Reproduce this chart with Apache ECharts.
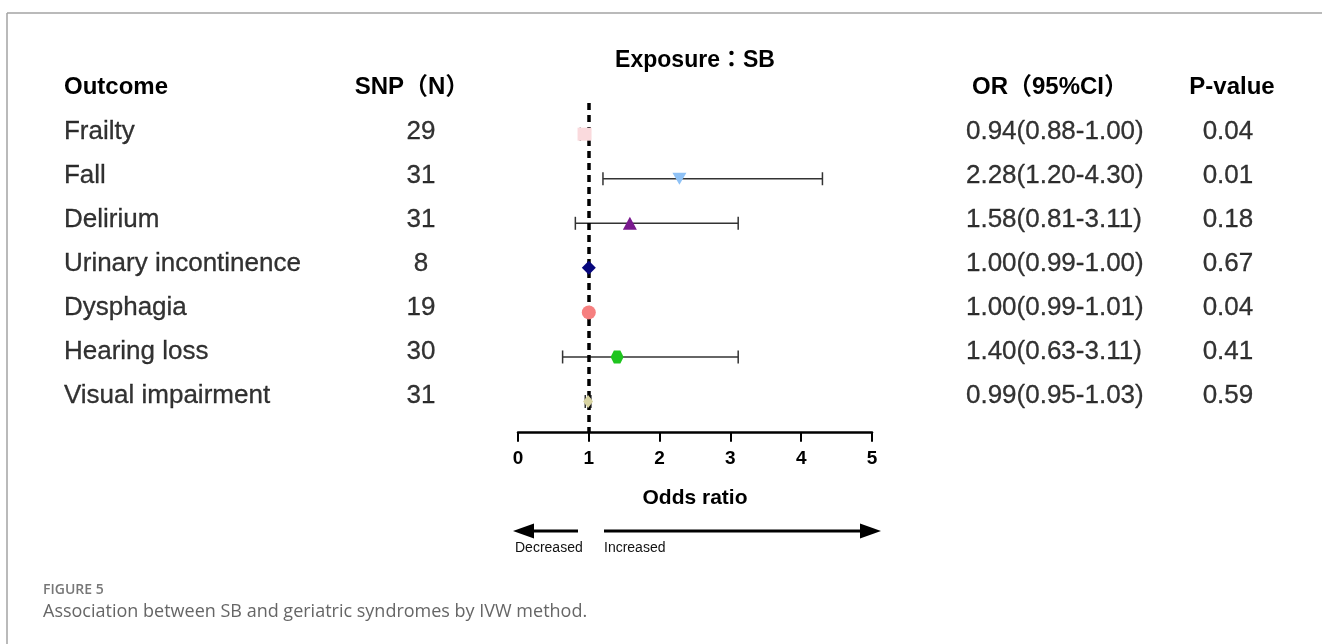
<!DOCTYPE html>
<html>
<head>
<meta charset="utf-8">
<script src="https://cdn.jsdelivr.net/npm/echarts@6/dist/echarts.min.js"></script>
<style>
html,body{margin:0;padding:0;background:#fff;}
#chart{width:1322px;height:644px;}
</style>
</head>
<body>
<div id="chart"></div>
<script>
// ---- data ----
const outcomes = ['Frailty','Fall','Delirium','Urinary incontinence','Dysphagia','Hearing loss','Visual impairment'];
const snpN = [29, 31, 31, 8, 19, 30, 31];
const orValues = [0.94, 2.28, 1.58, 1.00, 1.00, 1.40, 0.99];
const ciLow = [0.88, 1.20, 0.81, 0.99, 0.99, 0.63, 0.95];
const ciHigh = [1.00, 4.30, 3.11, 1.00, 1.01, 3.11, 1.03];
const pValues = ['0.04', '0.01', '0.18', '0.67', '0.04', '0.41', '0.59'];
const xTicks = [0, 1, 2, 3, 4, 5];
const refLine = 1;

// ---- styles ----
const FONT = '"Liberation Sans", Arial, "Noto Sans CJK TC", sans-serif';
const hexPath = 'path://M-1,0 L-0.5,-0.866 L0.5,-0.866 L1,0 L0.5,0.866 L-0.5,0.866 Z';
const markerStyles = [
  {symbol:'rect', size:[14,13], color:'#fadadd', rotate:0},
  {symbol:'triangle', size:[14,12], color:'#8fc2f6', rotate:180},
  {symbol:'triangle', size:[14,13], color:'#7a1a8e', rotate:0},
  {symbol:'diamond', size:[14,14], color:'#07077d', rotate:0},
  {symbol:'circle', size:14, color:'#f67f7f', rotate:0},
  {symbol:hexPath, size:[13,13], color:'#1ec51e', rotate:0},
  {symbol:'diamond', size:[10,13], color:'#d8d4a2', rotate:0}
];
const colX = {outcome:64, snp:421, or:966, p:1228};

const rows = outcomes.map((_, i) => i + 1);

const chart = echarts.init(document.getElementById('chart'), null, {renderer:'canvas'});

function textSeries(xPos, texts, align) {
  return {
    type:'scatter', xAxisIndex:1, yAxisIndex:1, silent:true,
    symbolSize:0.1, itemStyle:{color:'rgba(0,0,0,0)'},
    data: texts.map((t, i) => ({value:[xPos, rows[i]], name:String(t)})),
    label:{show:true, position:[0,0], align:align, verticalAlign:'middle',
      formatter: p => p.name, fontFamily:FONT, fontSize:26, color:'#000',
      textBorderColor:'#000', textBorderWidth:0.3},
    z:5
  };
}

const orText = orValues.map((v, i) => v.toFixed(2) + '(' + ciLow[i].toFixed(2) + '-' + ciHigh[i].toFixed(2) + ')');

const option = {
  animation:false,
  backgroundColor:'#fff',
  grid:[
    {left:518, right:450, top:103, bottom:211.3},
    {left:0, right:0, top:88, bottom:204}
  ],
  xAxis:[
    {type:'value', gridIndex:0, min:xTicks[0], max:xTicks[xTicks.length-1], interval:1,
      splitLine:{show:false},
      axisLine:{show:true, lineStyle:{color:'#000', width:2.5}},
      axisTick:{show:true, length:9, lineStyle:{color:'#000', width:2}},
      axisLabel:{fontFamily:FONT, fontSize:19, fontWeight:'bold', color:'#000', margin:17},
      name:'Odds ratio', nameLocation:'middle', nameGap:55,
      nameTextStyle:{fontFamily:FONT, fontSize:21, fontWeight:'bold', color:'#000'}
    },
    {type:'value', gridIndex:1, min:0, max:1322, show:false}
  ],
  yAxis:[
    {type:'value', gridIndex:0, min:0.3, max:7.7, inverse:true, show:false},
    {type:'value', gridIndex:1, min:0, max:8, inverse:true, show:false}
  ],
  graphic:[
    {type:'line', shape:{x1:7, y1:13, x2:1322, y2:13}, style:{stroke:'#a3a3a3', lineWidth:1.5}, silent:true},
    {type:'line', shape:{x1:7, y1:13, x2:7, y2:644}, style:{stroke:'#a3a3a3', lineWidth:1.5}, silent:true},
    {type:'text', x:695, y:61, style:{text:'Exposure：SB', font:'bold 23px ' + FONT, fill:'#000', align:'center', verticalAlign:'middle'}},
    {type:'text', x:64, y:87, style:{text:'Outcome', font:'bold 24px ' + FONT, fill:'#000', align:'left', verticalAlign:'middle'}},
    {type:'text', x:412, y:87, style:{text:'SNP（N）', font:'bold 24px ' + FONT, fill:'#000', align:'center', verticalAlign:'middle'}},
    {type:'text', x:1050, y:87, style:{text:'OR（95%CI）', font:'bold 24px ' + FONT, fill:'#000', align:'center', verticalAlign:'middle'}},
    {type:'text', x:1232, y:87, style:{text:'P-value', font:'bold 24px ' + FONT, fill:'#000', align:'center', verticalAlign:'middle'}},
    // arrows
    {type:'line', shape:{x1:578, y1:531, x2:528, y2:531}, style:{stroke:'#000', lineWidth:3}},
    {type:'polygon', shape:{points:[[513,531],[534,523.5],[534,538.5]]}, style:{fill:'#000'}},
    {type:'line', shape:{x1:604, y1:531, x2:862, y2:531}, style:{stroke:'#000', lineWidth:3}},
    {type:'polygon', shape:{points:[[881,531],[860,523.5],[860,538.5]]}, style:{fill:'#000'}},
    {type:'text', x:515, y:548, style:{text:'Decreased', font:'14px ' + FONT, fill:'#111', align:'left', verticalAlign:'middle'}},
    {type:'text', x:604, y:548, style:{text:'Increased', font:'14px ' + FONT, fill:'#111', align:'left', verticalAlign:'middle'}},
    // caption
    {type:'text', x:43, y:590, style:{text:'FIGURE 5', font:'600 14px "Open Sans", sans-serif', fill:'#777', align:'left', verticalAlign:'middle'}},
    {type:'text', x:43, y:612, style:{text:'Association between SB and geriatric syndromes by IVW method.', font:'18px "Open Sans", sans-serif', fill:'#666', align:'left', verticalAlign:'middle'}}
  ],
  series:[
    {
      type:'custom', xAxisIndex:0, yAxisIndex:0, silent:true, z:2,
      data: rows.map((r, i) => [ciLow[i], ciHigh[i], r]),
      renderItem:function(params, api){
        const p1 = api.coord([api.value(0), api.value(2)]);
        const p2 = api.coord([api.value(1), api.value(2)]);
        const h = 6.5;
        const st = {stroke:'#333', lineWidth:1.5};
        return {type:'group', children:[
          {type:'line', shape:{x1:p1[0], y1:p1[1], x2:p2[0], y2:p2[1]}, style:st},
          {type:'line', shape:{x1:p1[0], y1:p1[1]-h, x2:p1[0], y2:p1[1]+h}, style:st},
          {type:'line', shape:{x1:p2[0], y1:p2[1]-h, x2:p2[0], y2:p2[1]+h}, style:st}
        ]};
      }
    },
    {
      type:'scatter', xAxisIndex:0, yAxisIndex:0, silent:true, z:4,
      data: rows.map((r, i) => ({
        value:[orValues[i], r],
        symbol:markerStyles[i].symbol,
        symbolSize:markerStyles[i].size,
        symbolRotate:markerStyles[i].rotate,
        itemStyle:{color:markerStyles[i].color, opacity:1}
      })),
      markLine:{
        silent:true, symbol:['none','none'], label:{show:false},
        lineStyle:{color:'#000', width:3.5, type:[7,5]},
        data:[{xAxis:refLine}],
        z:3
      }
    },
    textSeries(colX.outcome, outcomes, 'left'),
    textSeries(colX.snp, snpN, 'center'),
    textSeries(colX.or, orText, 'left'),
    textSeries(colX.p, pValues, 'center')
  ]
};
chart.setOption(option);
</script>
</body>
</html>
